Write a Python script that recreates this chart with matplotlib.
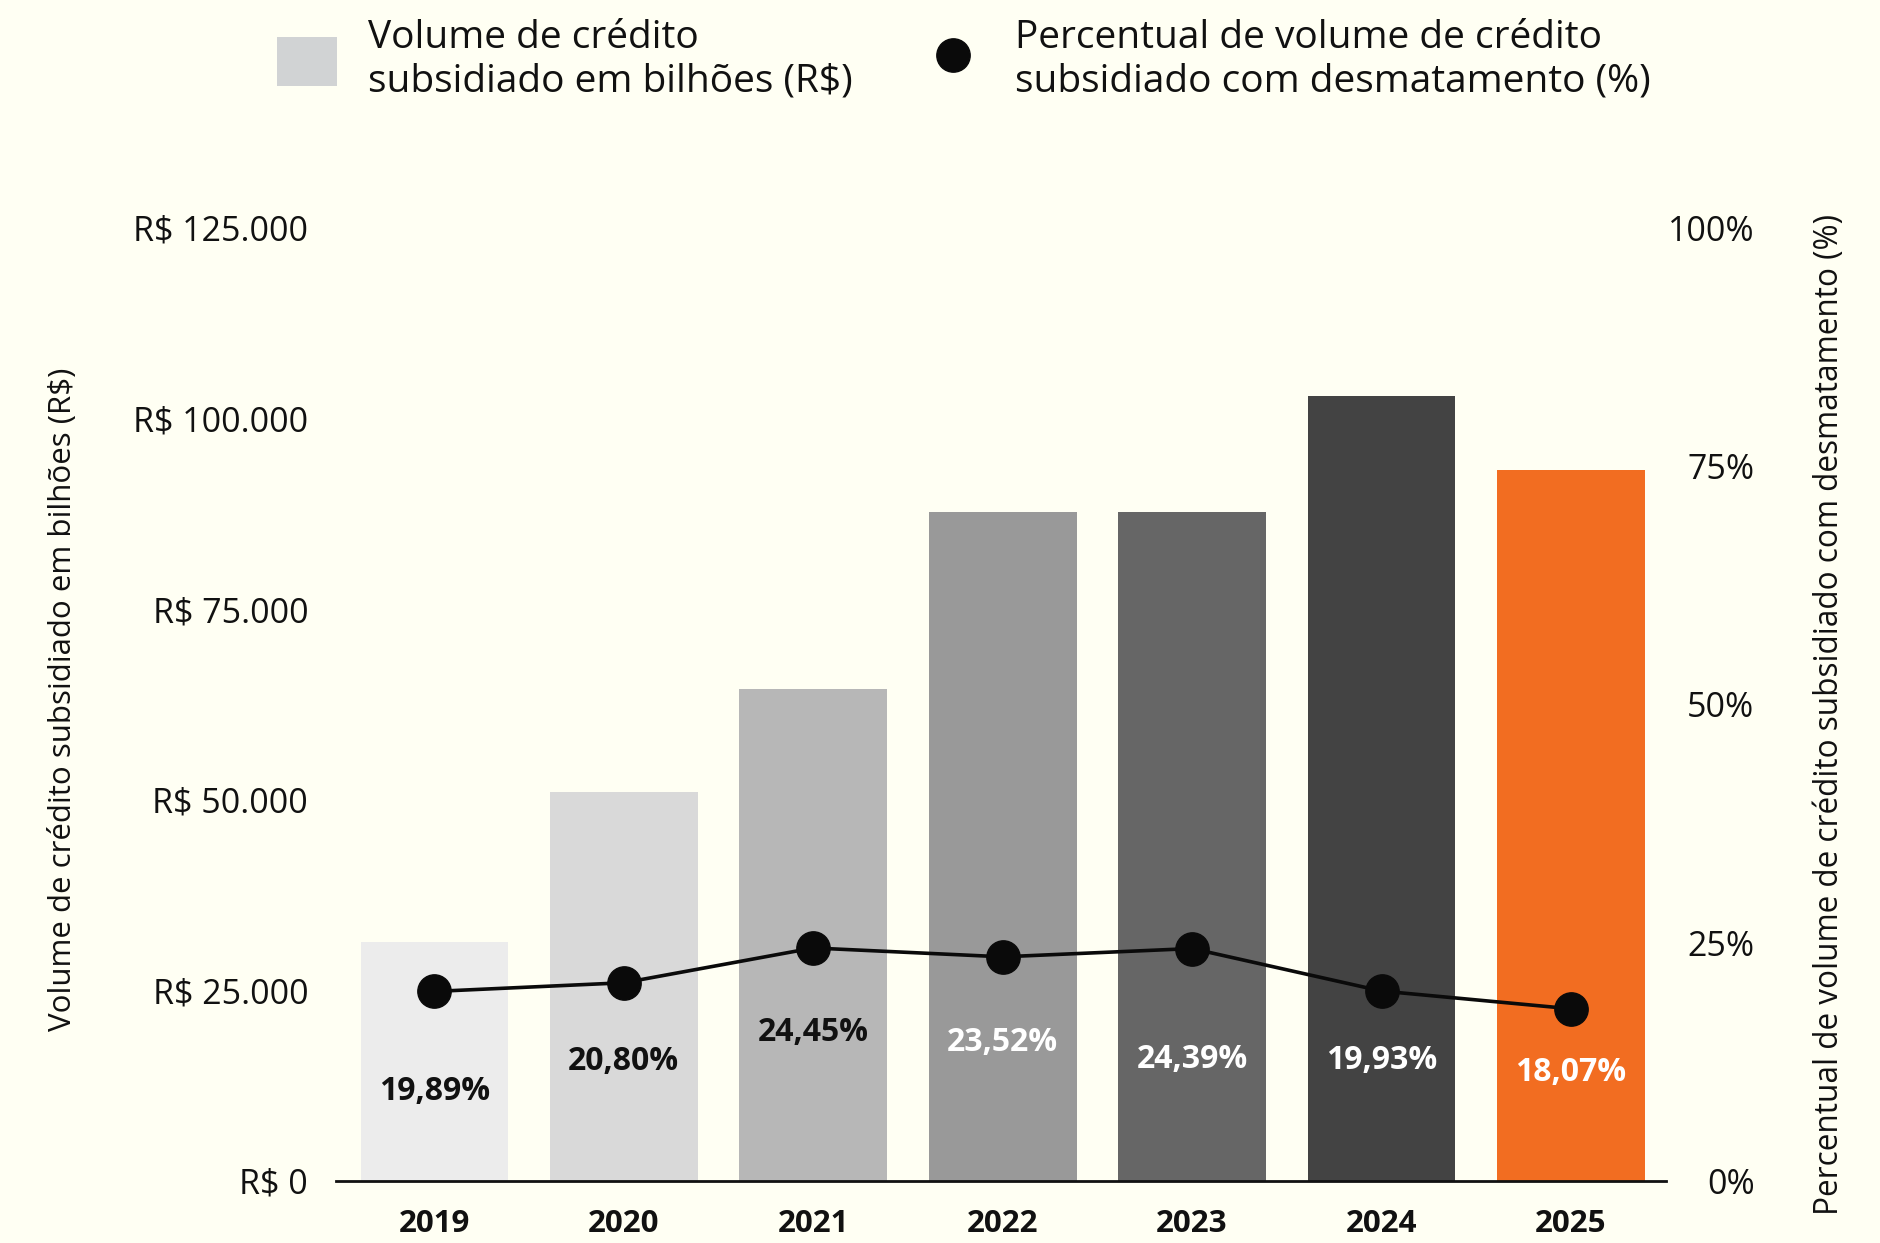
import numpy as np
import matplotlib.pyplot as plt
from matplotlib.patches import Patch
from matplotlib.lines import Line2D

plt.rcParams['font.family'] = ['Open Sans', 'DejaVu Sans']

anos = ['2019', '2020', '2021', '2022', '2023', '2024', '2025']
volume = [31400, 51000, 64500, 87800, 87800, 103000, 93300]
percentual = [19.89, 20.80, 24.45, 23.52, 24.39, 19.93, 18.07]
rotulos = ['19,89%', '20,80%', '24,45%', '23,52%', '24,39%', '19,93%', '18,07%']

cores_barras = ['#ECECEC', '#D9D9D9', '#B7B7B7', '#999999', '#666666', '#434343', '#F26D21']
cores_rotulos = ['#111111', '#111111', '#111111', 'white', 'white', 'white', 'white']
fundo = '#FFFFF3'

fig = plt.figure(figsize=(18.81, 12.43), dpi=100, facecolor=fundo)
ax = fig.add_axes([0.1786, 0.0499, 0.7069, 0.7667])
ax.set_facecolor(fundo)
x = np.arange(len(anos))

ax.bar(x, volume, width=0.78, color=cores_barras, zorder=2)
ax.set_xlim(-0.52, 6.5)
ax.set_ylim(0, 125000)
ax.set_yticks([0, 25000, 50000, 75000, 100000, 125000])
ax.set_yticklabels(['R$ 0', 'R$ 25.000', 'R$ 50.000', 'R$ 75.000', 'R$ 100.000', 'R$ 125.000'],
                   fontsize=24.5, color='#111111')
ax.set_xticks(x)
ax.set_xticklabels(anos, fontsize=22.5, fontweight='bold', color='#111111')
ax.tick_params(axis='both', length=0)
ax.tick_params(axis='y', pad=20)
ax.tick_params(axis='x', pad=20)
for lado in ['top', 'right', 'left']:
    ax.spines[lado].set_visible(False)
ax.spines['bottom'].set_linewidth(2)
ax.spines['bottom'].set_color('#111111')
ax.spines['bottom'].set_zorder(5)
ax.set_ylabel('Volume de crédito subsidiado em bilhões (R$)', fontsize=22.5, color='#111111')
ax.yaxis.set_label_coords(-0.194, 0.505)

# eixo secundario com o percentual
ax2 = ax.twinx()
ax2.set_ylim(0, 100)
ax2.set_yticks([0, 25, 50, 75, 100])
ax2.set_yticklabels(['0%', '25%', '50%', '75%', '100%'], fontsize=24.5, color='#111111')
ax2.tick_params(axis='y', length=0, pad=64)
for lab in ax2.get_yticklabels():
    lab.set_horizontalalignment('right')
for lado in ['top', 'right', 'left', 'bottom']:
    ax2.spines[lado].set_visible(False)
ax2.set_ylabel('Percentual de volume de crédito subsidiado com desmatamento (%)',
               fontsize=22.7, color='#111111')
ax2.yaxis.set_label_coords(1.111, 0.49)

ax2.plot(x, percentual, color='#0a0a0a', lw=2.6, marker='o', markersize=24, zorder=4)

# deslocamento vertical (pt) de cada rotulo abaixo do marcador
desloc = [72, 57, 61, 62, 80, 50, 46]
for xi, p, rot, c, d in zip(x, percentual, rotulos, cores_rotulos, desloc):
    ax2.annotate(rot, (xi, p), xytext=(0, -d), textcoords='offset points',
                 ha='center', va='center', fontsize=23, fontweight='bold', color=c)

# legenda no topo
handles = [Patch(facecolor='#D1D3D4', edgecolor='none'),
           Line2D([], [], color='none', marker='o', markerfacecolor='#0a0a0a',
                  markeredgecolor='#0a0a0a', markersize=24)]
labels = ['Volume de crédito\nsubsidiado em bilhões (R$)',
          'Percentual de volume de crédito\nsubsidiado com desmatamento (%)']
fig.legend(handles, labels, loc='upper left', bbox_to_anchor=(0.1473, 0.985), ncol=2,
           frameon=False, fontsize=28, handlelength=1.55, handleheight=1.55,
           columnspacing=1.8, handletextpad=0.8, borderpad=0, borderaxespad=0,
           labelcolor='#111111')

fig.savefig('out.png', dpi=100, facecolor=fundo)
